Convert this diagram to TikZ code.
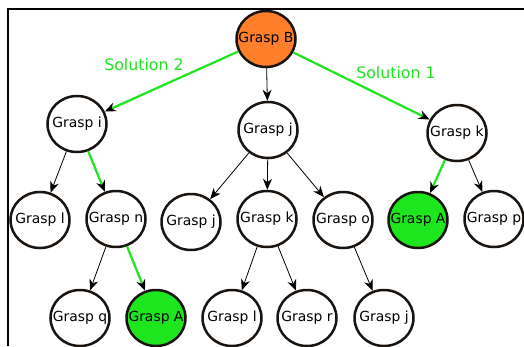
\documentclass[tikz,border=0pt]{standalone}
\usepackage{fontspec}
\setmainfont{DejaVu Sans}
\usetikzlibrary{shapes.geometric,arrows.meta}
\definecolor{nodeorange}{RGB}{255,127,42}
\definecolor{solgreen}{RGB}{30,230,30}
\definecolor{outline}{RGB}{26,20,16}
\newcommand\gtext[1]{\makebox[0pt]{#1}}
\tikzset{
  gnode/.style={ellipse, draw=outline, line width=2.5pt, fill=white,
    minimum width=59pt, minimum height=56pt, inner sep=0pt,
    font=\fontsize{13.9}{16}\selectfont},
  startnode/.style={gnode, fill=nodeorange},
  goalnode/.style={gnode, fill=solgreen},
  plain/.style={draw=black, line width=0.8pt, -{Stealth[length=11pt,width=9pt,inset=3.5pt,color=black]}},
  solution/.style={draw=solgreen, line width=2.2pt, -{Stealth[length=11pt,width=9pt,inset=3.5pt,color=black]}},
  sollabel/.style={text=solgreen, font=\fontsize{15.8}{18}\selectfont}
}
\begin{document}
\begin{tikzpicture}[x=1pt,y=-1pt]
\useasboundingbox (0,0) rectangle (524,346);
\fill[white] (0,0) rectangle (524,346);
% frame (top and left edges visible)
\draw[line width=2.2pt, black] (8,346) -- (8,9) -- (524,9);
% level 0
\node[startnode] (B) at (266,39) {\gtext{Grasp B}};
% level 1
\node[gnode] (i) at (77,124) {\gtext{Grasp i}};
\node[gnode] (j) at (268,130) {\gtext{Grasp j}};
\node[gnode] (k) at (457,133) {\gtext{Grasp k}};
% level 2
\node[gnode] (l) at (40,220) {\gtext{Grasp l}};
\node[gnode] (n) at (116,219) {\gtext{Grasp n}};
\node[gnode] (j2) at (191,222) {\gtext{Grasp j}};
\node[gnode] (k2) at (267,219) {\gtext{Grasp k}};
\node[gnode] (o) at (343,220) {\gtext{Grasp o}};
\node[goalnode] (A1) at (418,220) {\gtext{Grasp A}};
\node[gnode] (p) at (494,219) {\gtext{Grasp p}};
% level 3
\node[gnode] (q) at (80,318) {\gtext{Grasp q}};
\node[goalnode] (A2) at (156,318) {\gtext{Grasp A}};
\node[gnode] (l3) at (232,318) {\gtext{Grasp l}};
\node[gnode] (r) at (307,318) {\gtext{Grasp r}};
\node[gnode] (j3) at (384,318) {\gtext{Grasp j}};
% labels
\node[sollabel] (s2) at (144,65) {Solution 2};
\node[sollabel] (s1) at (396,73) {Solution 1};
% edges
\draw[solution] (B) -- (i);
\draw[plain] (B) -- (j);
\draw[solution] (B) -- (k);
\draw[plain] (i) -- (l);
\draw[solution] (i) -- (n);
\draw[plain] (j) -- (j2);
\draw[plain] (j) -- (k2);
\draw[plain] (j) -- (o);
\draw[solution] (k) -- (A1);
\draw[plain] (k) -- (p);
\draw[plain] (n) -- (q);
\draw[solution] (n) -- (A2);
\draw[plain] (k2) -- (l3);
\draw[plain] (k2) -- (r);
\draw[plain] (o) -- (j3);
\end{tikzpicture}
\end{document}
